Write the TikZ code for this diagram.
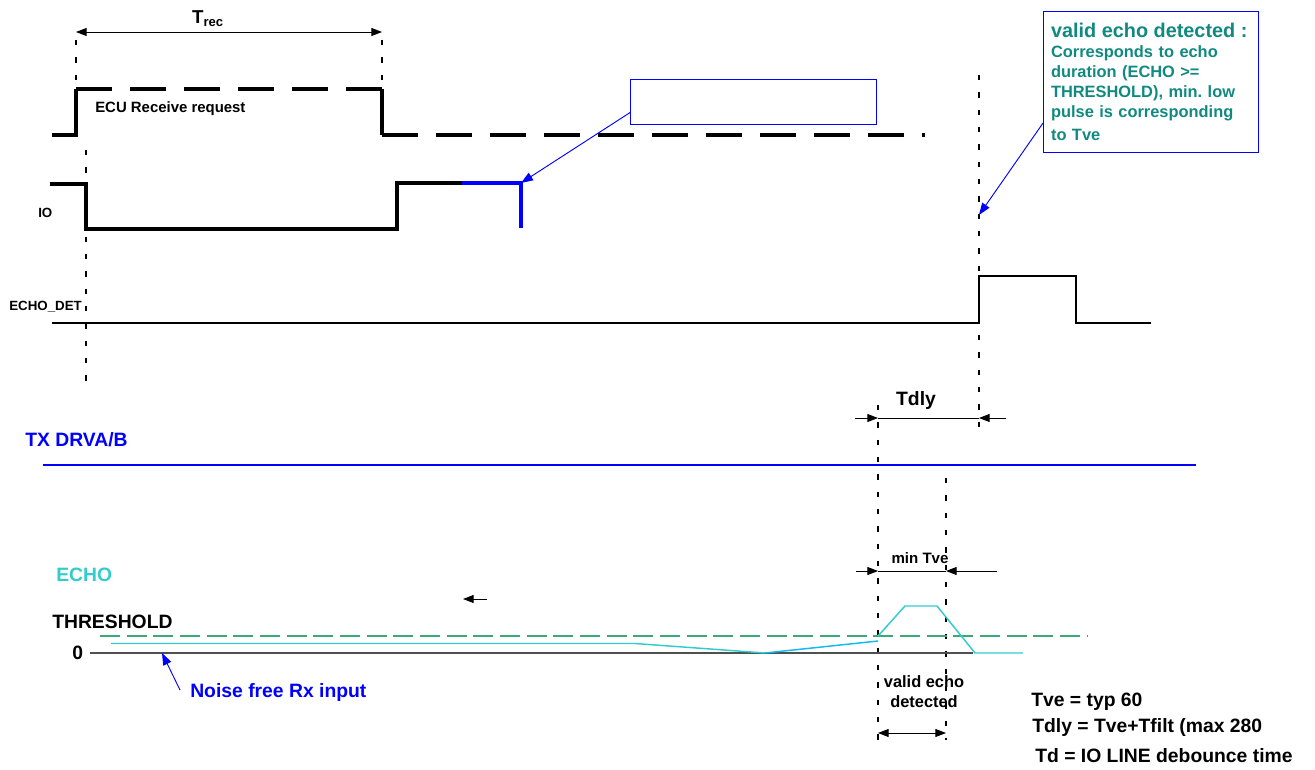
\documentclass[tikz,border=0pt]{standalone}
\usepackage{fontspec}
\setmainfont{Liberation Sans}
\usetikzlibrary{arrows.meta}
\definecolor{blue}{HTML}{0000FF}
\definecolor{echocyan}{HTML}{33CCCC}
\definecolor{rxblue}{HTML}{11BBEE}
\definecolor{thrgreen}{HTML}{3DA878}
\definecolor{noteteal}{HTML}{108A80}
\definecolor{zerogray}{HTML}{505050}
\tikzstyle{sig} = [line width=2.4pt]
\tikzstyle{reqdash} = [dash pattern=on 27pt off 13.5pt]
\tikzstyle{guide} = [line width=0.8pt, dash pattern=on 4pt off 9pt]
\tikzstyle{lbl} = [inner sep=0pt, font=\bfseries\fontsize{14.5}{17}\selectfont]
\tikzstyle{smalllbl} = [inner sep=0pt, font=\bfseries\fontsize{10}{12}\selectfont]
\tikzstyle{dimline} = [line width=0.7pt]
\tikzstyle{dimtip} = [dimline, -{Triangle[length=8pt,width=6pt]}]
\tikzstyle{pointer} = [blue, line width=0.7pt, -{Triangle[length=9pt,width=6.5pt]}]
\tikzstyle{notebox} = [draw=blue, line width=0.8pt, inner sep=0pt]

\begin{document}
\begin{tikzpicture}[x=0.75pt, y=-0.75pt]
	\useasboundingbox (0,0) rectangle (1315,770);
	\coordinate (trecL) at (76,32);
	\coordinate (trecR) at (382,32);
	\coordinate (iomark) at (521,183);
	\coordinate (detmark) at (979,215);
	\coordinate (tdlyLo) at (855,418);
	\coordinate (tdlyL) at (878,418);
	\coordinate (tdlyR) at (979,418);
	\coordinate (tdlyRo) at (1006,418);
	\coordinate (tveLo) at (856,571);
	\coordinate (tveL) at (878,571);
	\coordinate (tveR) at (946,571);
	\coordinate (tveRo) at (997,571);
	\coordinate (validL) at (878,733);
	\coordinate (validR) at (946,733);
	\coordinate (rxmark) at (162,653);
	\coordinate (rxfoot) at (180,690);
	\coordinate (backA) at (487,599);
	\coordinate (backB) at (463,599);
	
	\draw[guide] (76,40) -- (76,82);
	\draw[guide] (382,40) -- (382,85);
	\draw[guide] (86,150) -- (86,385);
	\draw[guide] (979,75) -- (979,432);
	\draw[guide] (878,405) -- (878,740);
	\draw[guide] (946,478) -- (946,740);
	
	\draw[dimline, {Triangle[length=8pt,width=6pt]}-{Triangle[length=8pt,width=6pt]}] (trecL) -- (trecR);
	\node[inner sep=0pt, font=\bfseries\fontsize{14}{16}\selectfont] (trec) at (208,19) {T\textsubscript{rec}};
	
	\draw[sig] (52,135) -- (76,135) -- (76,89);
	\draw[sig, reqdash] (76,89) -- (382,89);
	\draw[sig] (382,89) -- (382,135);
	\draw[sig, reqdash] (382,135) -- (925,135);
	\node[lbl, anchor=west, font=\bfseries\fontsize{11.2}{13}\selectfont] (reqlbl) at (95,109) {ECU Receive request};
	
	\draw[sig] (50,184) -- (86,184) -- (86,229) -- (397,229) -- (397,183) -- (462,183);
	\draw[sig, blue, line width=2.8pt] (462,183) -- (521,183) -- (521,228);
	\node[smalllbl, anchor=west] (iolbl) at (38,213) {IO};
	\node[notebox, anchor=north west, minimum width=184.5pt, minimum height=33.75pt] (ionote) at (630,79) {};
	\draw[pointer] ([yshift=-7.9pt]ionote.west) -- (iomark);
	
	\node[notebox, anchor=north west, minimum width=161.25pt, minimum height=105.75pt, inner xsep=5.6pt, text width=150pt, align=left, text=noteteal, font=\bfseries\fontsize{12.3}{15}\selectfont\frenchspacing] (echonote) at (1043,11) {{\fontsize{14.9}{17}\selectfont valid echo detected :}\\ Corresponds to echo\\ duration (ECHO >=\\ THRESHOLD), min. low\\ pulse is corresponding\\[2pt] to Tve};
	\draw[pointer] ([yshift=22.5pt]echonote.south west) -- (detmark);
	
	\draw[sig, line width=1.5pt] (52,323) -- (979,323) -- (979,276) -- (1076,276) -- (1076,323) -- (1151,323);
	\node[smalllbl, anchor=west] (detlbl) at (9,307) {ECHO\_DET};
	
	\draw[dimtip] (tdlyLo) -- (tdlyL);
	\draw[dimline] (tdlyL) -- (tdlyR);
	\draw[dimtip] (tdlyRo) -- (tdlyR);
	\node[lbl] (tdlylbl) at (916,401) {Tdly};
	
	\node[lbl, anchor=west, blue] (txlbl) at (25,440) {TX DRVA/B};
	\draw[blue, line width=1.5pt] (43,465) -- (1196,465);
	
	\draw[dimtip] (tveLo) -- (tveL);
	\draw[dimline] (tveL) -- (tveR);
	\draw[dimtip] (tveRo) -- (tveR);
	\node[lbl, font=\bfseries\fontsize{11.3}{13}\selectfont] (tvelbl) at (920,558) {min Tve};
	
	\node[lbl, anchor=west, echocyan] (echolbl) at (56,575) {ECHO};
	\draw[dimtip] (backA) -- (backB);
	\node[lbl, anchor=west] (thrlbl) at (52,622) {THRESHOLD};
	\node[lbl, anchor=west] (zerolbl) at (72,653) {0};
	
	\draw[zerogray, line width=1pt] (90,653) -- (973,653);
	\draw[thrgreen, line width=1.2pt, dash pattern=on 15pt off 5pt] (100,636) -- (1088,636);
	\draw[echocyan, line width=1.1pt] (111,643.5) -- (635,643.5) -- (765,653);
	\draw[rxblue, line width=1.1pt] (765,653) -- (878,641);
	\draw[echocyan, line width=1.1pt] (878,636) -- (905,606) -- (937,606) -- (975,653) -- (1023,653);
	
	\draw[pointer] (rxfoot) -- (rxmark);
	\node[lbl, anchor=west, blue] (rxlbl) at (190,692) {Noise free Rx input};
	
	\node[lbl, align=center, font=\bfseries\fontsize{12.3}{15}\selectfont] (validlbl) at (924,692) {valid echo\\ detected};
	\draw[dimline, {Triangle[length=8pt,width=6pt]}-{Triangle[length=8pt,width=6pt]}] (validL) -- (validR);
	
	\node[lbl, anchor=west] (tvenote) at (1031,702) {Tve = typ 60};
	\node[lbl, anchor=west] (tdlynote) at (1032,727) {Tdly = Tve+Tfilt (max 280};
	\node[lbl, anchor=west] (tdnote) at (1035,756) {Td = IO LINE debounce time};
\end{tikzpicture}
\end{document}
